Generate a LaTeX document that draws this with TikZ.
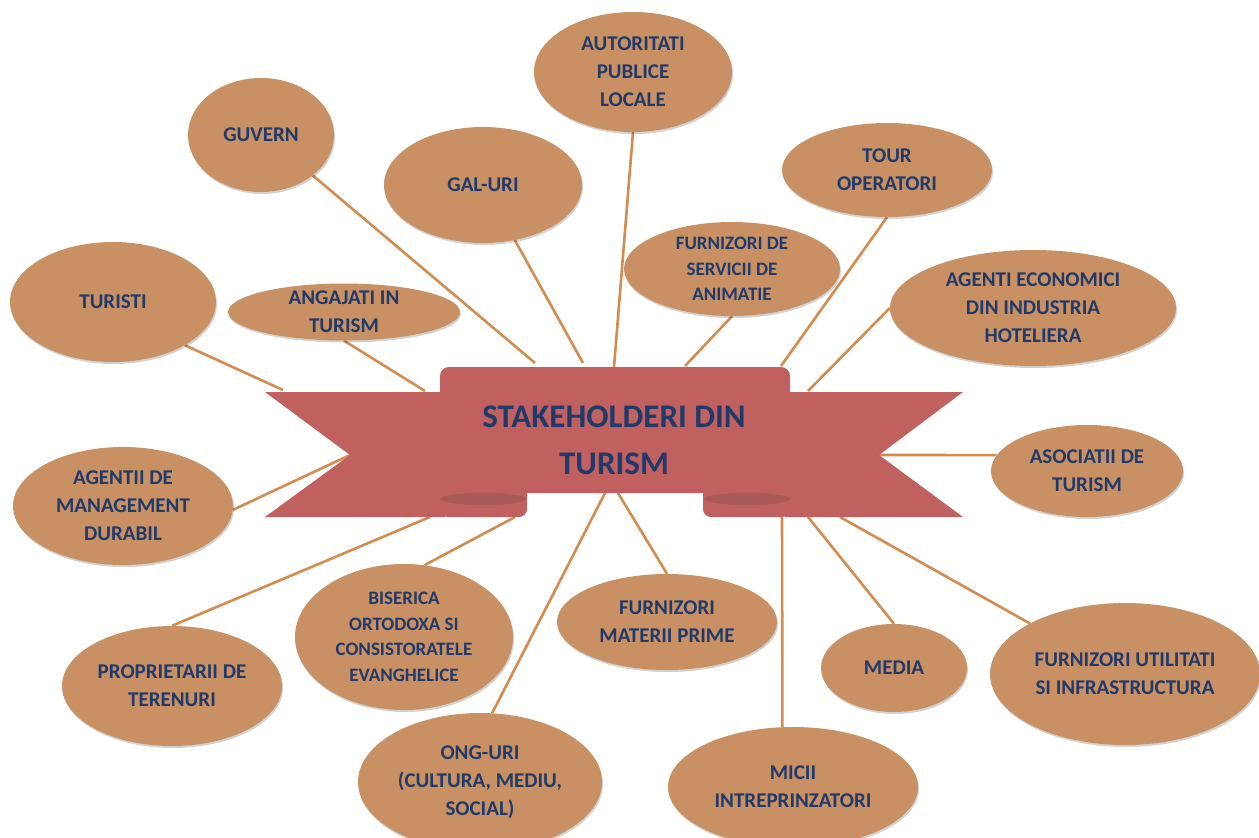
\documentclass[tikz,border=0pt]{standalone}
\usepackage{fontspec}
\setmainfont{Carlito}
\usetikzlibrary{shapes.geometric,shadows}
\definecolor{tanc}{RGB}{201,145,99}
\definecolor{navy}{RGB}{31,58,107}
\definecolor{ribbon}{RGB}{192,96,95}
\definecolor{ribbondk}{RGB}{168,90,88}
\definecolor{linkc}{RGB}{212,140,78}
\pgfdeclarelayer{bg}
\pgfsetlayers{bg,main}
\begin{document}
\begin{tikzpicture}[x=1pt,y=-1pt,
  ell/.style={ellipse, fill=tanc, inner sep=0pt, align=center, text=navy,
    font=\bfseries\fontsize{21}{28}\selectfont,
    drop shadow={shadow xshift=1pt, shadow yshift=-2pt, opacity=0.18, fill=black}},
  smallell/.style={ell, inner ysep=-6pt, font=\bfseries\fontsize{19}{25.5}\selectfont},
  link/.style={draw=linkc, line width=2.6pt},
  band/.style={fill=ribbon}]
\useasboundingbox (0,0) rectangle (1259,838);
\clip (0,0) rectangle (1259,838);

% ---- banner ----
\fill[band, rounded corners=9pt] (440,367) rectangle (790,493);
\fill[band] (265,392) -- (445,392) -- (445,517) -- (265,517) -- (350,455) -- cycle;
\fill[band] (963,392) -- (785,392) -- (785,517) -- (963,517) -- (879,455) -- cycle;
\fill[band, rounded corners=8pt] (440,478) rectangle (527,517);
\fill[band, rounded corners=8pt] (703,478) rectangle (790,517);
\fill[ribbondk] (483,499) ellipse [x radius=43, y radius=6];
\fill[ribbondk] (747,499) ellipse [x radius=43, y radius=6];
\node[font=\bfseries\fontsize{33}{47}\selectfont, text=navy, align=center] (title) at (614,440) {STAKEHOLDERI DIN\\TURISM};

% ---- banner attachment points ----
\coordinate (bGuv) at (535,363);
\coordinate (bGal) at (583,363);
\coordinate (bAut) at (614,367);
\coordinate (bAnim) at (685,366);
\coordinate (bTour) at (781,366);
\coordinate (bHotel) at (808,391);
\coordinate (bTur) at (283,390);
\coordinate (bAng) at (425,391);
\coordinate (bMgmt) at (350,455);
\coordinate (bAsoc) at (879,455);
\coordinate (bProp) at (430,517);
\coordinate (bBis) at (515,517);
\coordinate (bOng) at (605,493);
\coordinate (bMat) at (618,493);
\coordinate (bMicii) at (782,517);
\coordinate (bMedia) at (808,517);
\coordinate (bUtil) at (840,517);

% ---- stakeholder ellipses ----
\node[ell, minimum width=198pt, minimum height=120pt] (aut) at (633,72) {AUTORITATI\\PUBLICE\\LOCALE};
\node[ell, minimum width=146pt, minimum height=114pt] (guv) at (261,135) {GUVERN};
\node[ell, minimum width=198pt, minimum height=116pt] (gal) at (483,185) {GAL-URI};
\node[ell, minimum width=210pt, minimum height=94pt] (tour) at (887,170) {TOUR\\OPERATORI};
\node[smallell, minimum width=216pt, minimum height=94pt] (anim) at (732,269) {FURNIZORI DE\\SERVICII DE\\ANIMATIE};
\node[ell, minimum width=286pt, minimum height=116pt] (hotel) at (1033,308) {AGENTI ECONOMICI\\DIN INDUSTRIA\\HOTELIERA};
\node[ell, minimum width=206pt, minimum height=120pt] (tur) at (113,302) {TURISTI};
\node[ell, inner ysep=-6pt, minimum width=232pt, minimum height=57pt] (ang) at (344,312) {ANGAJATI IN\\TURISM};
\node[ell, minimum width=220pt, minimum height=118pt] (mgmt) at (123,506) {AGENTII DE\\MANAGEMENT\\DURABIL};
\node[ell, minimum width=192pt, minimum height=92pt] (asoc) at (1087,471) {ASOCIATII DE\\TURISM};
\node[ell, minimum width=220pt, minimum height=120pt] (prop) at (172,686) {PROPRIETARII DE\\TERENURI};
\node[smallell, minimum width=218pt, minimum height=146pt] (bis) at (404,637) {BISERICA\\ORTODOXA SI\\CONSISTORATELE\\EVANGHELICE};
\node[ell, minimum width=220pt, minimum height=96pt] (mat) at (667,622) {FURNIZORI\\MATERII PRIME};
\node[ell, minimum width=244pt, minimum height=138pt] (ong) at (480,782) {ONG-URI\\(CULTURA, MEDIU,\\SOCIAL)};
\node[ell, minimum width=146pt, minimum height=88pt] (media) at (894,668) {MEDIA};
\node[ell, minimum width=270pt, minimum height=142pt] (util) at (1125,674) {FURNIZORI UTILITATI\\SI INFRASTRUCTURA};
\node[ell, minimum width=250pt, minimum height=120pt] (micii) at (793,787) {MICII\\INTREPRINZATORI};

% ---- connectors ----
\begin{pgfonlayer}{bg}
\draw[link] (guv.-38) -- (bGuv);
\draw[link] (gal.-60) -- (bGal);
\draw[link] (aut.-90) -- (bAut);
\draw[link] (anim.-90) -- (bAnim);
\draw[link] (tour.-90) -- (bTour);
\draw[link] (hotel.180) -- (bHotel);
\draw[link] (tur.-31) -- (bTur);
\draw[link] (ang.-90) -- (bAng);
\draw[link] (mgmt.-2) -- (bMgmt);
\draw[link] (asoc.170) -- (bAsoc);
\draw[link] (prop.90) -- (bProp);
\draw[link] (bis.74) -- (bBis);
\draw[link] (ong.80) -- (bOng);
\draw[link] (mat.90) -- (bMat);
\draw[link] (micii.100) -- (bMicii);
\draw[link] (media.90) -- (bMedia);
\draw[link] (util.152) -- (bUtil);
\end{pgfonlayer}
\end{tikzpicture}
\end{document}
